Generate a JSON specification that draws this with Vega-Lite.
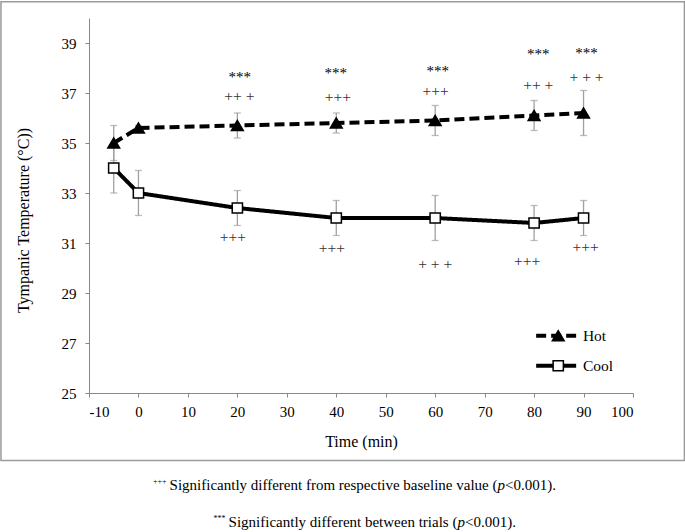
{
  "$schema": "https://vega.github.io/schema/vega-lite/v6.json",
  "width": 544,
  "height": 375,
  "autosize": {"type": "none"},
  "padding": {"left": 89, "top": 18, "right": 52, "bottom": 139},
  "background": "white",
  "config": {
    "font": "Liberation Serif",
    "view": {"stroke": null},
    "axis": {
      "domainColor": "#888888",
      "tickColor": "#888888",
      "labelColor": "black",
      "titleColor": "black",
      "labelFont": "Liberation Serif",
      "titleFont": "Liberation Serif",
      "labelFontSize": 15,
      "titleFontSize": 16,
      "titleFontWeight": "normal",
      "grid": false,
      "tickSize": 4,
      "domainWidth": 1,
      "tickWidth": 1
    },
    "legend": {"labelFont": "Liberation Serif", "labelFontSize": 15.5, "labelColor": "black"}
  },
  "datasets": {
    "temps": [
      {"trial": "Hot", "time": -5, "mean": 35.0, "lo": 34.3, "hi": 35.7},
      {"trial": "Hot", "time": 0, "mean": 35.6, "lo": 35.5, "hi": 35.7},
      {"trial": "Hot", "time": 20, "mean": 35.7, "lo": 35.2, "hi": 36.2},
      {"trial": "Hot", "time": 40, "mean": 35.8, "lo": 35.4, "hi": 36.2},
      {"trial": "Hot", "time": 60, "mean": 35.9, "lo": 35.3, "hi": 36.5},
      {"trial": "Hot", "time": 80, "mean": 36.1, "lo": 35.5, "hi": 36.7},
      {"trial": "Hot", "time": 90, "mean": 36.2, "lo": 35.3, "hi": 37.1},
      {"trial": "Cool", "time": -5, "mean": 34.0, "lo": 33.0, "hi": 35.0},
      {"trial": "Cool", "time": 0, "mean": 33.0, "lo": 32.1, "hi": 33.9},
      {"trial": "Cool", "time": 20, "mean": 32.4, "lo": 31.7, "hi": 33.1},
      {"trial": "Cool", "time": 40, "mean": 32.0, "lo": 31.3, "hi": 32.7},
      {"trial": "Cool", "time": 60, "mean": 32.0, "lo": 31.1, "hi": 32.9},
      {"trial": "Cool", "time": 80, "mean": 31.8, "lo": 31.1, "hi": 32.5},
      {"trial": "Cool", "time": 90, "mean": 32.0, "lo": 31.3, "hi": 32.7}
    ],
    "notes": [
      {"kind": "star", "time": 20.5, "temp": 37.72, "label": "***"},
      {"kind": "star", "time": 39.9, "temp": 37.88, "label": "***"},
      {"kind": "star", "time": 60.5, "temp": 37.96, "label": "***"},
      {"kind": "star", "time": 80.85, "temp": 38.65, "label": "***"},
      {"kind": "star", "time": 90.6, "temp": 38.68, "label": "***"},
      {"kind": "plus", "time": 20.4, "temp": 36.83, "label": "++ +"},
      {"kind": "plus", "time": 40.3, "temp": 36.81, "label": "+++"},
      {"kind": "plus", "time": 60.1, "temp": 37.03, "label": "+++"},
      {"kind": "plus", "time": 80.85, "temp": 37.29, "label": "++ +"},
      {"kind": "plus", "time": 90.6, "temp": 37.61, "label": "+ + +"},
      {"kind": "plus", "time": 19.1, "temp": 31.19, "label": "+++"},
      {"kind": "plus", "time": 39.1, "temp": 30.76, "label": "+++"},
      {"kind": "plus", "time": 60.0, "temp": 30.12, "label": "+ + +"},
      {"kind": "plus", "time": 78.6, "temp": 30.25, "label": "+++"},
      {"kind": "plus", "time": 90.4, "temp": 30.81, "label": "+++"}
    ]
  },
  "data": {"name": "temps"},
  "layer": [
    {
      "data": {"values": [{}]},
      "mark": {"type": "rect", "fill": "transparent", "stroke": "#9a9a9a", "strokeWidth": 1.5, "clip": false},
      "encoding": {
        "x": {"datum": -27.8, "type": "quantitative", "title": "Time (min)"},
        "x2": {"datum": 110.4},
        "y": {"datum": 40.65, "type": "quantitative", "title": "Tympanic Temperature (°C))"},
        "y2": {"datum": 22.3}
      }
    },
    {
      "mark": {"type": "line", "color": "black", "strokeWidth": 4},
      "encoding": {
        "x": {
          "field": "time", "type": "quantitative",
          "scale": {"domain": [-10, 100], "nice": false, "zero": false},
          "title": "Time (min)",
          "axis": {
            "values": [-10, -5, 0, 5, 10, 15, 20, 25, 30, 35, 40, 45, 50, 55, 60, 65, 70, 75, 80, 85, 90, 95, 100],
            "labelExpr": "datum.value % 10 == 0 ? '' + datum.value : ''",
            "labelPadding": 7,
            "titleY": 53,
            "titleBaseline": "alphabetic",
            "titleAlign": "center"
          }
        },
        "y": {
          "field": "mean", "type": "quantitative",
          "scale": {"domain": [25, 40], "nice": false, "zero": false},
          "title": "Tympanic Temperature (°C))",
          "axis": {
            "values": [25, 26, 27, 28, 29, 30, 31, 32, 33, 34, 35, 36, 37, 38, 39, 40],
            "labelExpr": "datum.value % 2 == 1 ? datum.label : ''",
            "labelPadding": 9,
            "titleX": -60.5,
            "titleY": 202,
            "titleAngle": -90,
            "titleAlign": "center",
            "titleBaseline": "alphabetic"
          }
        },
        "strokeDash": {
          "field": "trial", "type": "nominal",
          "scale": {"domain": ["Hot", "Cool"], "range": [[10, 5], [1, 0]]},
          "legend": {
            "orient": "none", "legendX": 459.4, "legendY": 310, "title": null, "padding": 0,
            "symbolType": "M-20,0L20,0", "symbolSize": 4, "symbolStrokeWidth": 4, "symbolStrokeColor": "black",
            "labelOffset": 19, "rowPadding": 12
          }
        }
      }
    },
    {
      "mark": {"type": "errorbar", "ticks": {"size": 7}, "color": "#a0a0a0", "thickness": 1.3},
      "encoding": {
        "x": {"field": "time", "type": "quantitative", "title": "Time (min)"},
        "y": {"field": "lo", "type": "quantitative", "title": "Tympanic Temperature (°C))"},
        "y2": {"field": "hi"}
      }
    },
    {
      "mark": {"type": "point", "filled": true, "stroke": "black", "strokeWidth": 1.5, "opacity": 1},
      "encoding": {
        "x": {"field": "time", "type": "quantitative", "title": "Time (min)"},
        "y": {"field": "mean", "type": "quantitative", "title": "Tympanic Temperature (°C))"},
        "shape": {
          "field": "trial", "type": "nominal", "sort": "descending",
          "scale": {"range": ["triangle-up", "square"]},
          "legend": {
            "orient": "none", "legendX": 461.5, "legendY": 310, "title": null, "padding": 0,
            "labelExpr": "''", "labelOpacity": 0, "rowPadding": 12,
            "encode": {"symbols": {"update": {"stroke": {"value": "black"}, "strokeWidth": {"value": 1.5}, "opacity": {"value": 1}}}}
          }
        },
        "fill": {
          "field": "trial", "type": "nominal", "sort": "descending",
          "scale": {"range": ["black", "white"]},
          "legend": {
            "orient": "none", "legendX": 461.5, "legendY": 310, "title": null, "padding": 0,
            "labelExpr": "''", "labelOpacity": 0, "rowPadding": 12,
            "encode": {"symbols": {"update": {"stroke": {"value": "black"}, "strokeWidth": {"value": 1.5}, "opacity": {"value": 1}}}}
          }
        },
        "size": {
          "field": "trial", "type": "nominal", "sort": "descending",
          "scale": {"range": [140, 105]},
          "legend": {
            "orient": "none", "legendX": 461.5, "legendY": 310, "title": null, "padding": 0,
            "labelExpr": "''", "labelOpacity": 0, "rowPadding": 12,
            "encode": {"symbols": {"update": {"stroke": {"value": "black"}, "strokeWidth": {"value": 1.5}, "opacity": {"value": 1}}}}
          }
        }
      }
    },
    {
      "data": {"name": "notes"},
      "transform": [{"filter": "datum.kind == 'star'"}],
      "mark": {"type": "text", "fontSize": 15, "color": "black", "baseline": "middle", "dy": 2},
      "encoding": {
        "x": {"field": "time", "type": "quantitative"},
        "y": {"field": "temp", "type": "quantitative"},
        "text": {"field": "label"}
      }
    },
    {
      "data": {"name": "notes"},
      "transform": [{"filter": "datum.kind == 'plus'"}],
      "mark": {"type": "text", "fontSize": 15.5, "color": "#333333", "baseline": "middle", "dy": -1},
      "encoding": {
        "x": {"field": "time", "type": "quantitative"},
        "y": {"field": "temp", "type": "quantitative"},
        "text": {"field": "label"}
      }
    },
    {
      "data": {"values": [{}]},
      "mark": {"type": "text", "text": "Significantly different from respective baseline value (", "fontSize": 15, "align": "right", "baseline": "alphabetic", "color": "black"},
      "encoding": {"x": {"datum": 72.6, "type": "quantitative"}, "y": {"datum": 21.12, "type": "quantitative"}}
    },
    {
      "data": {"values": [{}]},
      "mark": {"type": "text", "text": "p", "fontStyle": "italic", "fontSize": 15, "align": "left", "baseline": "alphabetic", "color": "black"},
      "encoding": {"x": {"datum": 72.6, "type": "quantitative"}, "y": {"datum": 21.12, "type": "quantitative"}}
    },
    {
      "data": {"values": [{}]},
      "mark": {"type": "text", "text": "<0.001).", "fontSize": 15, "align": "left", "baseline": "alphabetic", "dx": 7.5, "color": "black"},
      "encoding": {"x": {"datum": 72.6, "type": "quantitative"}, "y": {"datum": 21.12, "type": "quantitative"}}
    },
    {
      "data": {"values": [{}]},
      "mark": {"type": "text", "text": "+++", "fontSize": 8, "align": "right", "baseline": "alphabetic", "dx": -331, "dy": -6, "color": "black"},
      "encoding": {"x": {"datum": 72.6, "type": "quantitative"}, "y": {"datum": 21.12, "type": "quantitative"}}
    },
    {
      "data": {"values": [{}]},
      "mark": {"type": "text", "text": "Significantly different between trials (", "fontSize": 15, "align": "right", "baseline": "alphabetic", "color": "black"},
      "encoding": {"x": {"datum": 64.5, "type": "quantitative"}, "y": {"datum": 19.64, "type": "quantitative"}}
    },
    {
      "data": {"values": [{}]},
      "mark": {"type": "text", "text": "p", "fontStyle": "italic", "fontSize": 15, "align": "left", "baseline": "alphabetic", "color": "black"},
      "encoding": {"x": {"datum": 64.5, "type": "quantitative"}, "y": {"datum": 19.64, "type": "quantitative"}}
    },
    {
      "data": {"values": [{}]},
      "mark": {"type": "text", "text": "<0.001).", "fontSize": 15, "align": "left", "baseline": "alphabetic", "dx": 7.5, "color": "black"},
      "encoding": {"x": {"datum": 64.5, "type": "quantitative"}, "y": {"datum": 19.64, "type": "quantitative"}}
    },
    {
      "data": {"values": [{}]},
      "mark": {"type": "text", "text": "***", "fontSize": 8, "align": "right", "baseline": "alphabetic", "dx": -232, "dy": -6, "color": "black"},
      "encoding": {"x": {"datum": 64.5, "type": "quantitative"}, "y": {"datum": 19.64, "type": "quantitative"}}
    }
  ]
}
